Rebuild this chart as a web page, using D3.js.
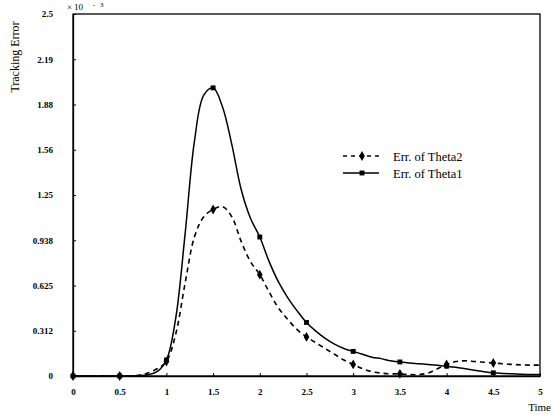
<!DOCTYPE html>
<html>
<head>
<meta charset="utf-8">
<script src="https://cdn.jsdelivr.net/npm/d3@7/dist/d3.min.js"></script>
<style>
  html, body { margin: 0; padding: 0; background: #fff; }
  svg { display: block; font-family: "Liberation Serif", "DejaVu Serif", serif; }
</style>
</head>
<body>
<svg id="chart" width="553" height="415"></svg>
<script>
// Sampled tracking error (units of 1e-3) every 0.1 s
const time = d3.range(0, 51).map(i => i / 10);
const errTheta1 = [
  0, 0, 0, 0, 0, 0, 0, 0.002, 0.008, 0.03,
  0.11, 0.40, 0.98, 1.62, 1.94, 1.99, 1.86, 1.60, 1.29, 1.09,
  0.96, 0.79, 0.65, 0.54, 0.45, 0.37, 0.31, 0.26, 0.22, 0.19,
  0.17, 0.15, 0.13, 0.12, 0.105, 0.097, 0.09, 0.085, 0.08, 0.075,
  0.068, 0.06, 0.05, 0.04, 0.03, 0.022, 0.018, 0.015, 0.012, 0.01,
  0.01
];
const errTheta2 = [
  0, 0, 0, 0, 0, 0, 0, 0.005, 0.02, 0.05,
  0.10, 0.29, 0.64, 0.96, 1.10, 1.15, 1.17, 1.10, 0.93, 0.79,
  0.70, 0.58, 0.47, 0.39, 0.32, 0.27, 0.23, 0.19, 0.15, 0.11,
  0.08, 0.05, 0.03, 0.02, 0.015, 0.015, 0.01, 0.01, 0.02, 0.05,
  0.08, 0.10, 0.105, 0.10, 0.095, 0.09, 0.085, 0.08, 0.077, 0.075,
  0.075
];
const xTicks = [0, 0.5, 1, 1.5, 2, 2.5, 3, 3.5, 4, 4.5, 5];
const xTickLabels = ["0", "0.5", "1", "1.5", "2", "2.5", "3", "3.5", "4", "4.5", "5"];
const yTicks = [0, 0.3125, 0.625, 0.9375, 1.25, 1.5625, 1.875, 2.1875, 2.5];
const yTickLabels = ["0", "0.312", "0.625", "0.938", "1.25", "1.56", "1.88", "2.19", "2.5"];
const seriesNames = ["Err. of Theta2", "Err. of Theta1"];

const svg = d3.select("#chart");
const W = 553, H = 415;
const margin = { top: 14, right: 13, bottom: 39, left: 73 };
const iw = W - margin.left - margin.right;
const ih = H - margin.top - margin.bottom;

const x = d3.scaleLinear().domain([0, 5]).range([0, iw]);
const y = d3.scaleLinear().domain([0, 2.5]).range([ih, 0]);

const g = svg.append("g").attr("transform", `translate(${margin.left},${margin.top})`);

// frame
g.append("rect").attr("x", 0).attr("y", 0).attr("width", iw).attr("height", ih)
  .attr("fill", "none").attr("stroke", "#000").attr("stroke-width", 1.3);

// axes with short inward ticks
const xAxis = d3.axisBottom(x).tickValues(xTicks)
  .tickFormat((d, i) => xTickLabels[i]).tickSizeInner(-3).tickSizeOuter(0).tickPadding(13);
const yAxis = d3.axisLeft(y).tickValues(yTicks)
  .tickFormat((d, i) => yTickLabels[i]).tickSizeInner(-3).tickSizeOuter(0).tickPadding(20);

const gx = g.append("g").attr("transform", `translate(0,${ih})`).call(xAxis);
const gy = g.append("g").call(yAxis);
[gx, gy].forEach(a => {
  a.select(".domain").attr("stroke", "#000").attr("stroke-width", 1.3);
  a.selectAll(".tick line").attr("stroke", "#000").attr("stroke-width", 1);
  a.selectAll(".tick text").attr("fill", "#000")
    .style("font-family", "'Liberation Serif', serif").style("font-size", "9px")
    .style("font-weight", "bold");
});

// exponent marker
const ex = g.append("text").attr("y", -4).style("font-size", "9px").attr("fill", "#000");
ex.append("tspan").attr("x", -6).text("×");
ex.append("tspan").attr("x", 1).text("10");
ex.append("tspan").attr("x", 20).attr("dy", -3).style("font-size", "7px").text("-");
ex.append("tspan").attr("x", 27).style("font-size", "7px").text("3");

// curves
const pts = s => time.map((t, i) => [t, s[i]]);
const line = d3.line().x(d => x(d[0])).y(d => y(d[1])).curve(d3.curveCatmullRom.alpha(0.5));

g.append("path").datum(pts(errTheta2)).attr("d", line)
  .attr("fill", "none").attr("stroke", "#000").attr("stroke-width", 1.6)
  .attr("stroke-dasharray", "5,4");
g.append("path").datum(pts(errTheta1)).attr("d", line)
  .attr("fill", "none").attr("stroke", "#000").attr("stroke-width", 1.5);

// markers every 0.5 s
const marked = s => pts(s).filter((d, i) => i % 5 === 0 && i < 50);
const diamond = d3.symbol().type(d3.symbolDiamond).size(28);
const square = d3.symbol().type(d3.symbolSquare).size(24);

g.selectAll(".m2").data(marked(errTheta2)).join("path")
  .attr("transform", d => `translate(${x(d[0])},${y(d[1])})`)
  .attr("d", diamond).attr("fill", "#000");
g.selectAll(".m1").data(marked(errTheta1)).join("path")
  .attr("transform", d => `translate(${x(d[0])},${y(d[1])})`)
  .attr("d", square).attr("fill", "#000");

// legend
const lg = svg.append("g").attr("transform", "translate(343,156)");
[0, 1].forEach(i => {
  const yy = i * 17;
  lg.append("line").attr("x1", 0).attr("x2", 36).attr("y1", yy).attr("y2", yy)
    .attr("stroke", "#000").attr("stroke-width", 1.4)
    .attr("stroke-dasharray", i === 0 ? "4,4" : null);
  lg.append("path").attr("transform", `translate(19,${yy})`)
    .attr("d", i === 0 ? diamond : square).attr("fill", "#000");
  lg.append("text").attr("x", 50).attr("y", yy + 4.5)
    .style("font-size", "12.5px").attr("fill", "#000").text(seriesNames[i]);
});

// axis titles
svg.append("text").attr("transform", "translate(19,57) rotate(-90)")
  .attr("text-anchor", "middle").style("font-size", "12px").attr("fill", "#000")
  .text("Tracking Error");
svg.append("text").attr("x", 551).attr("y", 411).attr("text-anchor", "end")
  .style("font-size", "11px").attr("fill", "#000").text("Time");
</script>
</body>
</html>
